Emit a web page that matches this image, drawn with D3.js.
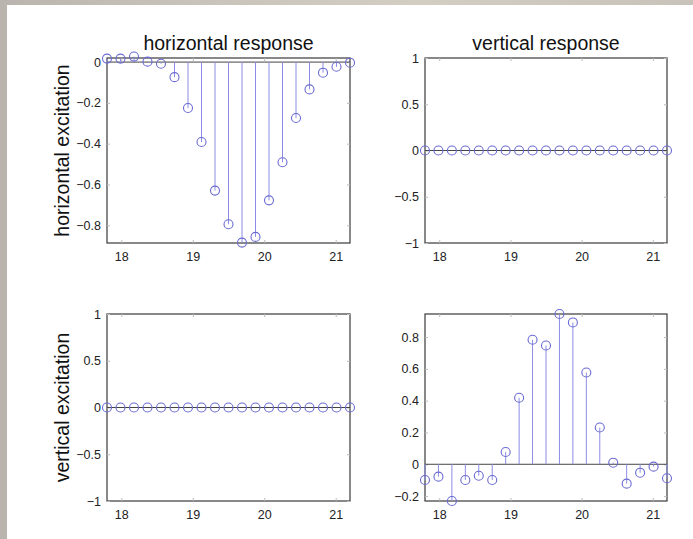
<!DOCTYPE html>
<html>
<head>
<meta charset="utf-8">
<script src="https://cdn.jsdelivr.net/npm/d3@7"></script>
<style>
  html, body { margin: 0; padding: 0; }
  body { width: 693px; height: 539px; overflow: hidden;
         background: linear-gradient(90deg, #b9b5ae 0%, #c9c4bb 30%, #d3cdc2 60%, #c8c3ba 100%); }
  svg { display: block; }
  text { font-family: "Liberation Sans", Arial, sans-serif; }
</style>
</head>
<body>
<svg id="chart" width="693" height="539"></svg>
<script>
// ---- data ----
const xStart = 17.8;
const xStep = 0.18889;
const sampleIndex = d3.range(19);

const hhValues = [0.017, 0.017, 0.027, 0.002, -0.008, -0.074, -0.225, -0.392, -0.630, -0.795,
                  -0.885, -0.857, -0.678, -0.491, -0.274, -0.134, -0.052, -0.023, -0.003];
const hvValues = [0, 0, 0, 0, 0, 0, 0, 0, 0, 0, 0, 0, 0, 0, 0, 0, 0, 0, 0];
const vhValues = [0, 0, 0, 0, 0, 0, 0, 0, 0, 0, 0, 0, 0, 0, 0, 0, 0, 0, 0];
const vvValues = [-0.099, -0.078, -0.231, -0.099, -0.072, -0.099, 0.077, 0.418, 0.783, 0.747,
                  0.945, 0.892, 0.577, 0.231, 0.010, -0.122, -0.053, -0.015, -0.088];

const xTicks = [18, 19, 20, 21];
const yTicksHH = [0, -0.2, -0.4, -0.6, -0.8];
const yTicksFlat = [1, 0.5, 0, -0.5, -1];
const yTicksVV = [0.8, 0.6, 0.4, 0.2, 0, -0.2];

const colTitles = ["horizontal response", "vertical response"];
const rowTitles = ["horizontal excitation", "vertical excitation"];

// ---- layout ----
const svg = d3.select("#chart");
svg.append("rect").attr("x", 7).attr("y", 5).attr("width", 686).attr("height", 534).attr("fill", "#ffffff");

const cols = [{x0: 107, x1: 350}, {x0: 425, x1: 667}];
const rows = [{y0: 58, y1: 243}, {y0: 314, y1: 501}];

const panels = [
  {r: 0, c: 0, vals: hhValues, ydom: [-0.887, 0.02], yticks: yTicksHH},
  {r: 0, c: 1, vals: hvValues, ydom: [-1, 1], yticks: yTicksFlat},
  {r: 1, c: 0, vals: vhValues, ydom: [-1, 1], yticks: yTicksFlat},
  {r: 1, c: 1, vals: vvValues, ydom: [-0.231, 0.945], yticks: yTicksVV},
];

const tickFmt = v => (v === 0 ? "0" : d3.format("")(v)).replace("-", "\u2212");

panels.forEach(p => {
  const C = cols[p.c], R = rows[p.r];
  const times = sampleIndex.map(i => xStart + i * xStep);
  const x = d3.scaleLinear().domain([times[0], times[times.length - 1]]).range([C.x0, C.x1]);
  const y = d3.scaleLinear().domain(p.ydom).range([R.y1, R.y0]);
  const g = svg.append("g");

  // box
  g.append("rect").attr("x", C.x0).attr("y", R.y0)
    .attr("width", C.x1 - C.x0).attr("height", R.y1 - R.y0)
    .attr("fill", "none").attr("stroke", "#3a3a3a").attr("stroke-width", 1.2);

  // axes
  const xAx = d3.axisBottom(x).tickValues(xTicks).tickSize(-3).tickPadding(9).tickFormat(d3.format("d"));
  const xa = g.append("g").attr("transform", `translate(0,${R.y1})`).call(xAx);
  const xTop = d3.axisTop(x).tickValues(xTicks).tickSize(-3).tickFormat("");
  const xt = g.append("g").attr("transform", `translate(0,${R.y0})`).call(xTop);
  const yAx = d3.axisLeft(y).tickValues(p.yticks).tickSize(-3).tickPadding(6).tickFormat(tickFmt);
  const ya = g.append("g").attr("transform", `translate(${C.x0},0)`).call(yAx);
  const yRight = d3.axisRight(y).tickValues(p.yticks).tickSize(-3).tickFormat("");
  const yr = g.append("g").attr("transform", `translate(${C.x1},0)`).call(yRight);
  [xa, xt, ya, yr].forEach(a => {
    a.select(".domain").remove();
    a.selectAll(".tick line").attr("stroke", "#bbbbbb");
    a.selectAll("text").attr("fill", "#222").style("font-size", "12.5px")
      .style("font-family", "'Liberation Sans', Arial, sans-serif");
  });

  // baseline at 0
  g.append("line").attr("x1", C.x0).attr("x2", C.x1).attr("y1", y(0)).attr("y2", y(0))
    .attr("stroke", "#444").attr("stroke-width", 1);

  // stems
  g.selectAll(".stem").data(p.vals).enter().append("line")
    .attr("x1", (d, i) => x(times[i])).attr("x2", (d, i) => x(times[i]))
    .attr("y1", y(0)).attr("y2", d => y(d))
    .attr("stroke", "#8c8ce6").attr("stroke-width", 1);

  // markers
  g.selectAll(".mk").data(p.vals).enter().append("circle")
    .attr("cx", (d, i) => x(times[i])).attr("cy", d => y(d)).attr("r", 4.5)
    .attr("fill", "none").attr("stroke", "#6a6ad2").attr("stroke-width", 1.1);
});

// column titles
colTitles.forEach((t, i) => {
  svg.append("text").attr("x", (cols[i].x0 + cols[i].x1) / 2).attr("y", 50)
    .attr("text-anchor", "middle").attr("fill", "#111").style("font-size", "19.5px").text(t);
});
// row titles
rowTitles.forEach((t, i) => {
  const cy = (rows[i].y0 + rows[i].y1) / 2;
  svg.append("text").attr("transform", `translate(69,${cy}) rotate(-90)`)
    .attr("text-anchor", "middle").attr("fill", "#111").style("font-size", "19.5px").text(t);
});
</script>
</body>
</html>
